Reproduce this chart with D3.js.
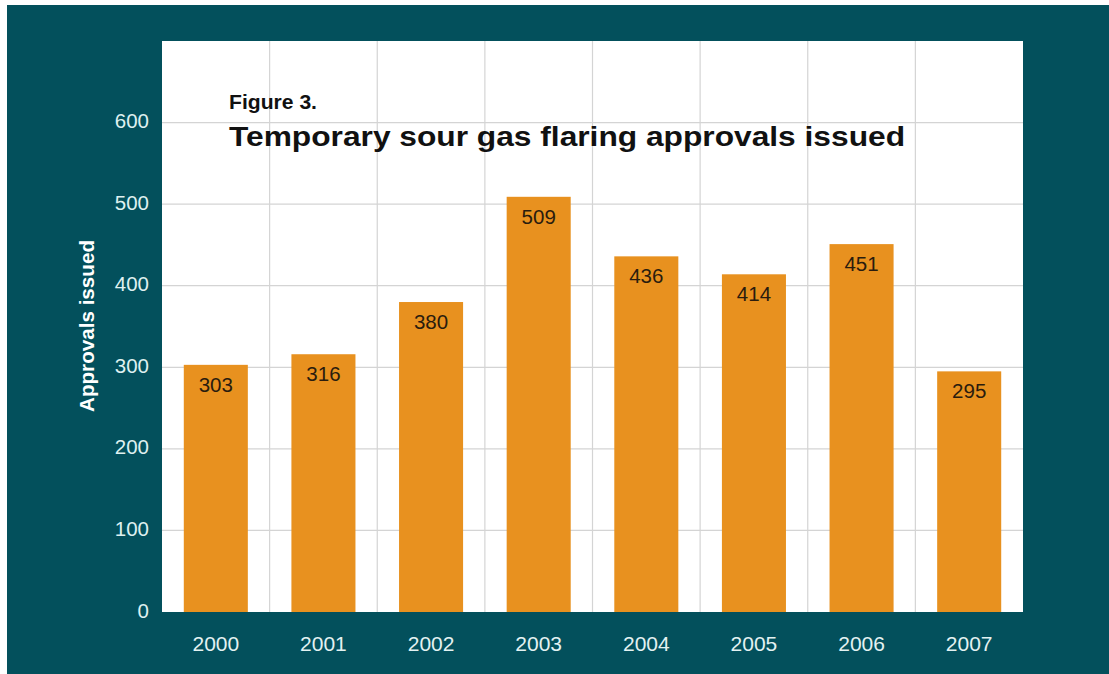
<!DOCTYPE html>
<html>
<head>
<meta charset="utf-8">
<script src="https://cdn.jsdelivr.net/npm/d3@7"></script>
<style>
  html, body { margin: 0; padding: 0; background: #ffffff; }
  svg { display: block; }
  text { font-family: "Liberation Sans", Arial, Helvetica, sans-serif; }
</style>
</head>
<body>
<svg id="chart" width="1109" height="674"></svg>
<script>
const years = ["2000", "2001", "2002", "2003", "2004", "2005", "2006", "2007"];
const approvals = [303, 316, 380, 509, 436, 414, 451, 295];
const yTicks = [0, 100, 200, 300, 400, 500, 600];
const figureLabel = "Figure 3.";
const titleText = "Temporary sour gas flaring approvals issued";
const yAxisLabel = "Approvals issued";

const W = 1109, H = 674;
const plot = { left: 162, right: 1023, top: 41, bottom: 612 };
const teal = "#03505c";
const orange = "#e8911f";

const svg = d3.select("#chart");

svg.append("rect").attr("x", 0).attr("y", 0).attr("width", W).attr("height", H).attr("fill", "#ffffff");
svg.append("rect").attr("x", 7).attr("y", 5).attr("width", W - 7).attr("height", H - 5).attr("fill", teal);

const x = d3.scaleBand().domain(years).range([plot.left, plot.right]).padding(0);
const y = d3.scaleLinear().domain([0, 700]).range([plot.bottom, plot.top]);

// plot background
svg.append("rect")
  .attr("x", plot.left).attr("y", plot.top)
  .attr("width", plot.right - plot.left).attr("height", plot.bottom - plot.top)
  .attr("fill", "#ffffff");

// grid
const grid = svg.append("g").attr("stroke", "#d4d4d4").attr("stroke-width", 1.2);
grid.selectAll("line.h").data(yTicks.filter(d => d > 0)).join("line")
  .attr("class", "h")
  .attr("x1", plot.left).attr("x2", plot.right)
  .attr("y1", d => y(d)).attr("y2", d => y(d));
grid.selectAll("line.v").data(years.slice(1)).join("line")
  .attr("class", "v")
  .attr("x1", d => x(d)).attr("x2", d => x(d))
  .attr("y1", plot.top).attr("y2", plot.bottom);

// titles
svg.append("text")
  .attr("x", 229).attr("y", 109)
  .attr("font-size", 20).attr("font-weight", "bold").attr("fill", "#111")
  .attr("textLength", 88).attr("lengthAdjust", "spacingAndGlyphs")
  .text(figureLabel);
svg.append("text")
  .attr("x", 229).attr("y", 146)
  .attr("font-size", 28).attr("font-weight", "bold").attr("fill", "#111")
  .attr("textLength", 676).attr("lengthAdjust", "spacingAndGlyphs")
  .text(titleText);

// bars
const barW = x.bandwidth() * 0.595;
const data = years.map((yr, i) => ({ yr, v: approvals[i] }));
svg.append("g").selectAll("rect").data(data).join("rect")
  .attr("x", d => x(d.yr) + (x.bandwidth() - barW) / 2)
  .attr("y", d => y(d.v))
  .attr("width", barW)
  .attr("height", d => y(0) - y(d.v))
  .attr("fill", orange);

// value labels
svg.append("g").selectAll("text").data(data).join("text")
  .attr("x", d => x(d.yr) + x.bandwidth() / 2)
  .attr("y", d => y(d.v) + 27)
  .attr("text-anchor", "middle")
  .attr("font-size", 20.5).attr("fill", "#2a1c0e")
  .text(d => d.v);

// y axis tick labels
const yAxis = d3.axisLeft(y).tickValues(yTicks).tickSize(0).tickPadding(0);
const yG = svg.append("g").attr("transform", `translate(149,0)`).call(yAxis);
yG.select(".domain").remove();
yG.selectAll("text")
  .attr("font-size", 20.5).attr("fill", "#dff0f0")
  .attr("dy", null).attr("y", 5)
  .style("font-family", "'Liberation Sans', Arial, sans-serif");

// x axis labels
const xAxis = d3.axisBottom(x).tickSize(0).tickPadding(0);
const xG = svg.append("g").attr("transform", `translate(0,${plot.bottom})`).call(xAxis);
xG.select(".domain").remove();
xG.selectAll("text")
  .attr("font-size", 21).attr("fill", "#e3f2f2")
  .attr("dy", null).attr("y", 39)
  .style("font-family", "'Liberation Sans', Arial, sans-serif");

// y axis label
svg.append("text")
  .attr("transform", "translate(94,326) rotate(-90)")
  .attr("text-anchor", "middle")
  .attr("font-size", 20).attr("font-weight", "bold").attr("fill", "#ffffff")
  .attr("textLength", 172).attr("lengthAdjust", "spacingAndGlyphs")
  .text(yAxisLabel);
</script>
</body>
</html>
